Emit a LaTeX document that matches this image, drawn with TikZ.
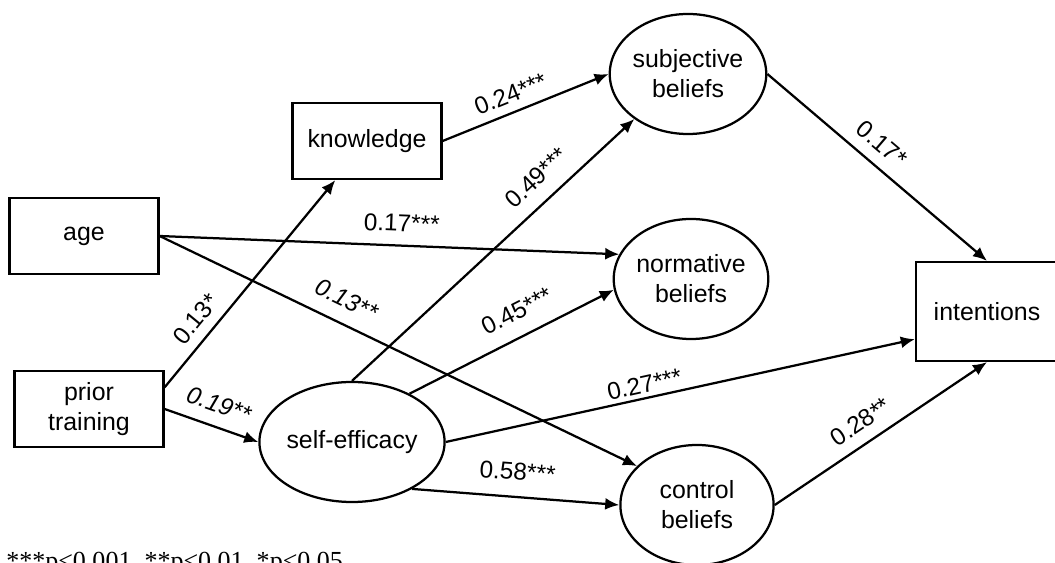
\documentclass[tikz,border=0pt]{standalone}
\usepackage{fontspec}
\setmainfont{Liberation Sans}
\newfontfamily\notefont{Liberation Serif}
\usetikzlibrary{arrows.meta, shapes.geometric, positioning}
\tikzset{>={Latex[length=10pt,width=8.5pt]}}
\tikzset{
  obs/.style={draw, line width=1.6pt, rectangle, minimum width=3.725cm, minimum height=1.9cm, align=center, font=\fontsize{17.7}{21.3}\selectfont},
  lat/.style={draw, line width=1.6pt, ellipse, minimum width=3.83cm, minimum height=3cm, inner sep=0pt, align=center, font=\fontsize{17.7}{21.3}\selectfont},
  link/.style={->, line width=1.6pt},
  coef/.style={sloped, inner sep=0pt, font=\fontsize{17.3}{19}\selectfont}
}

\begin{document}
\begin{tikzpicture}[x=0.025cm, y=-0.025cm]
\useasboundingbox (0,0) rectangle (1055,563);

% observed variables
\node[obs] (age) at (84,236) {age};
\node[obs] (prior) at (89,409) {prior\\training};
\node[obs] (knowledge) at (367,141) {knowledge};
\node[obs, minimum width=3.55cm, minimum height=2.475cm] (intentions) at (987,311.5) {intentions};

% latent variables
\node[lat] (subjective) at (688,74) {subjective\\beliefs};
\node[lat] (normative) at (691,279) {normative\\beliefs};
\node[lat] (self) at (352,442) {self-efficacy};
\node[lat] (control) at (697,505) {control\\beliefs};

% paths
\draw[link] (knowledge.east) -- node[coef, pos=0.45, above=6pt]{0.24***} (subjective.west);
\draw[link] (prior.16) -- node[coef, pos=0.27, above=7pt]{0.13*} (knowledge.231);
\draw[link] (prior.east) -- node[coef, pos=0.5, above=9pt]{\itshape 0.19**} (self.west);
\draw[link] (age.east) -- node[coef, pos=0.525, above=9pt]{0.17***} (normative.161);
\draw[link] (age.east) -- node[coef, pos=0.37, above=10pt]{\itshape 0.13**} (control.147);
\draw[link] (self.north) -- node[coef, pos=0.71, above=10pt]{0.49***} (subjective.220);
\draw[link] (self.40) -- node[coef, pos=0.58, above=11pt]{0.45***} (normative.188);
\draw[link] (self.east) -- node[coef, pos=0.43, above=3pt]{0.27***} (intentions.201);
\draw[link] (self.-38) -- node[coef, pos=0.5, above=11pt]{0.58***} (control.west);
\draw[link] (subjective.east) -- node[coef, pos=0.46, above=8pt]{0.17*} (intentions.north);
\draw[link] (control.east) -- node[coef, pos=0.46, above=8pt]{0.28**} (intentions.south);

\node[anchor=north west, inner sep=0pt, font=\notefont\fontsize{18.5}{20}\selectfont] (note) at (6,552) {***p<0.001, **p<0.01, *p<0.05};
\end{tikzpicture}
\end{document}
